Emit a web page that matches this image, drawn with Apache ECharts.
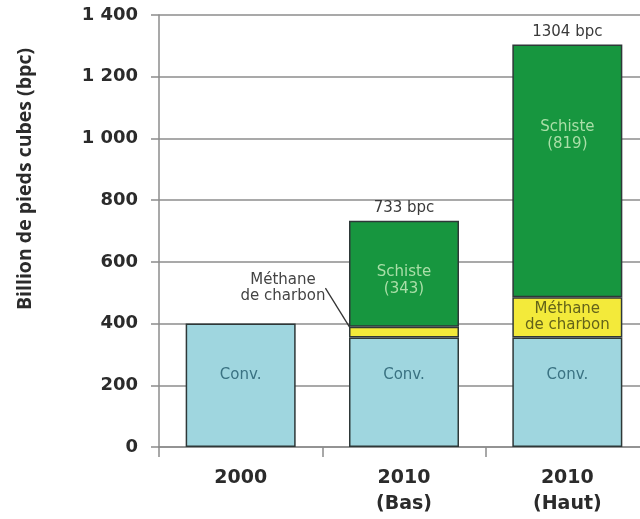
<!DOCTYPE html>
<html>
<head>
<meta charset="utf-8">
<script src="https://cdn.jsdelivr.net/npm/echarts@6/dist/echarts.min.js"></script>
<style>
  html, body { margin: 0; padding: 0; background: #fff; overflow: hidden; }
  #chart { width: 660px; height: 519px; }
</style>
</head>
<body>
<div id="chart"></div>
<script>
// Réserves de gaz naturel (billion de pieds cubes)
const categories = ['2000', '2010\n(Bas)', '2010\n(Haut)'];
const conventionnel = [400, 355, 355];
const methaneCharbon = [null, 35, 130];
const schiste = [null, 343, 819];
const totaux = [null, 733, 1304];
const yTicks = [0, 200, 400, 600, 800, 1000, 1200, 1400];

const fmtMilliers = v => String(v).replace(/\B(?=(\d{3})+(?!\d))/g, ' ');

const border = { borderColor: '#2e3838', borderWidth: 1.5 };
const gridGray = '#8c8c8c';
const innerFont = 'DejaVu Sans';

// vertical nudges of the in-bar labels, per bar
const convShift = [-10, -17, -17];
const schisteShift = [0, 7, -35];

const withShift = (values, shifts) =>
  values.map((v, i) => (v == null ? v : { value: v, label: { offset: [0, shifts[i]] } }));

const chart = echarts.init(document.getElementById('chart'), null, { renderer: 'canvas' });

chart.setOption({
  animation: false,
  grid: { left: 159, top: 15, width: 490, height: 432, containLabel: false },
  xAxis: {
    type: 'category',
    data: categories,
    axisLine: { lineStyle: { color: gridGray, width: 1.5 } },
    axisTick: { show: true, length: 10, lineStyle: { color: gridGray, width: 1.5 } },
    axisLabel: {
      margin: 18,
      fontFamily: 'DejaVu Sans',
      fontWeight: 'bold',
      fontSize: 19,
      lineHeight: 26,
      color: '#2b2b2b'
    }
  },
  yAxis: {
    type: 'value',
    min: yTicks[0],
    max: yTicks[yTicks.length - 1],
    interval: yTicks[1] - yTicks[0],
    axisLine: { show: true, lineStyle: { color: gridGray, width: 1.5 } },
    axisTick: { show: true, length: 8, lineStyle: { color: gridGray, width: 1.5 } },
    splitLine: { lineStyle: { color: gridGray, width: 1.5 } },
    axisLabel: {
      margin: 21,
      fontFamily: 'DejaVu Sans',
      fontWeight: 'bold',
      fontSize: 18,
      color: '#2b2b2b',
      formatter: fmtMilliers
    }
  },
  graphic: [{
    type: 'text',
    x: 25,
    y: 179,
    rotation: Math.PI / 2,
    style: {
      text: 'Billion de pieds cubes (bpc)',
      align: 'center',
      verticalAlign: 'middle',
      font: 'bold 19.5px "Open Sans"',
      fill: '#2b2b2b'
    }
  }],
  series: [
    {
      name: 'Conv.',
      type: 'bar',
      stack: 'gaz',
      barWidth: 110,
      data: withShift(conventionnel, convShift),
      itemStyle: Object.assign({ color: '#9fd6df' }, border),
      label: {
        show: true,
        position: 'inside',
        formatter: 'Conv.',
        fontFamily: innerFont,
        fontSize: 15,
        color: '#3a7282'
      }
    },
    {
      name: 'Méthane de charbon',
      type: 'bar',
      stack: 'gaz',
      barWidth: 110,
      data: methaneCharbon.map((v, i) =>
        i === 1 ? { value: v, label: { color: '#444' } } : v),
      itemStyle: Object.assign({ color: '#f3ea3a' }, border),
      label: {
        show: true,
        position: 'inside',
        formatter: 'Méthane\nde charbon',
        fontFamily: innerFont,
        fontSize: 15,
        lineHeight: 16,
        color: '#63631a'
      },
      labelLayout: function (p) {
        if (p.dataIndex === 1) {
          return { dx: -121, dy: -44 };
        }
        return {};
      },
      labelLine: { show: true, lineStyle: { color: '#333', width: 1.3 } },
      emphasis: { disabled: true }
    },
    {
      name: 'Schiste',
      type: 'bar',
      stack: 'gaz',
      barWidth: 110,
      data: withShift(schiste, schisteShift),
      itemStyle: Object.assign({ color: '#17963f' }, border),
      label: {
        show: true,
        position: 'inside',
        formatter: 'Schiste\n({c})',
        fontFamily: innerFont,
        fontSize: 15,
        lineHeight: 17,
        color: '#aadfa8'
      }
    },
    {
      name: 'Total',
      type: 'bar',
      barWidth: 110,
      barGap: '-100%',
      z: 1,
      data: totaux,
      itemStyle: { color: 'transparent' },
      label: {
        show: true,
        position: 'top',
        distance: 5,
        formatter: '{c} bpc',
        fontFamily: 'DejaVu Sans',
        fontSize: 15,
        color: '#3a3a3a'
      }
    }
  ]
});
</script>
</body>
</html>
